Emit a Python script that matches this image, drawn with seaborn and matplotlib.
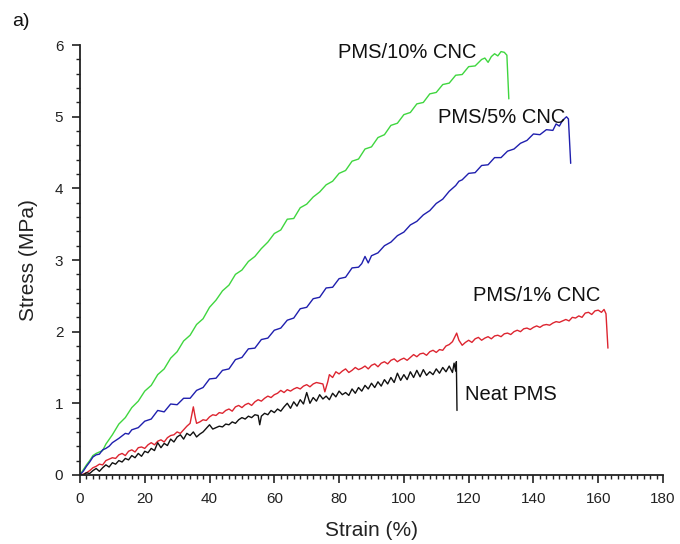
# Stress-strain curves, PMS with CNC loadings
import numpy as np
import pandas as pd
import seaborn as sns
import matplotlib
matplotlib.use("Agg")
import matplotlib.pyplot as plt
from matplotlib.ticker import MultipleLocator

# data (strain %, stress MPa)
strain_10 = [0, 1, 2, 3, 4, 5, 6, 7, 8, 10, 12, 14, 16, 18, 20, 22, 24, 26, 28, 30,
             32, 34, 36, 38, 40, 42, 44, 46, 48, 50, 52, 54, 56, 58, 60, 62, 64, 66, 68, 70,
             72, 74, 76, 78, 80, 82, 84, 86, 88, 90, 92, 94, 96, 98, 100, 102, 104, 106, 108, 110,
             112, 114, 116, 118, 120, 122, 124, 125, 126, 127, 128, 129, 130, 131, 131.8, 132.4]
stress_10 = [0, 0.07, 0.14, 0.2, 0.27, 0.3, 0.32, 0.34, 0.43, 0.56, 0.71, 0.8, 0.94, 1.03, 1.17, 1.25, 1.4, 1.48, 1.63, 1.72,
             1.87, 1.95, 2.1, 2.18, 2.34, 2.44, 2.57, 2.65, 2.8, 2.86, 2.98, 3.05, 3.16, 3.25, 3.37, 3.42, 3.57, 3.58, 3.73, 3.78,
             3.88, 3.95, 4.05, 4.1, 4.21, 4.25, 4.38, 4.41, 4.55, 4.58, 4.71, 4.75, 4.88, 4.91, 5.03, 5.06, 5.18, 5.2, 5.32, 5.34,
             5.45, 5.47, 5.58, 5.59, 5.7, 5.71, 5.8, 5.82, 5.76, 5.84, 5.88, 5.85, 5.91, 5.9, 5.86, 5.25]

strain_5 = [0, 1, 2, 3, 4, 5, 6, 7, 8, 9, 10, 12, 14, 15, 16, 18, 20, 22, 24, 26,
            28, 30, 32, 34, 36, 38, 40, 42, 44, 46, 48, 50, 52, 54, 56, 58, 60, 62, 64, 66,
            68, 70, 72, 74, 76, 78, 80, 82, 84, 86, 87, 88, 89, 90, 92, 94, 96, 98, 100, 102,
            104, 106, 108, 110, 112, 114, 116, 117, 118, 120, 122, 124, 126, 128, 130, 132, 134, 136, 138, 140,
            142, 144, 146, 147, 148, 149, 150.2, 150.8, 151.5]
stress_5 = [0, 0.05, 0.12, 0.18, 0.25, 0.28, 0.29, 0.35, 0.37, 0.4, 0.45, 0.51, 0.58, 0.57, 0.63, 0.66, 0.75, 0.78, 0.9, 0.88,
            0.99, 0.98, 1.07, 1.07, 1.18, 1.22, 1.34, 1.35, 1.46, 1.48, 1.61, 1.64, 1.76, 1.77, 1.89, 1.91, 2.02, 2.05, 2.16, 2.19,
            2.32, 2.34, 2.46, 2.48, 2.61, 2.62, 2.74, 2.76, 2.89, 2.9, 2.95, 3.05, 2.96, 3.06, 3.1, 3.2, 3.25, 3.34, 3.39, 3.49,
            3.54, 3.63, 3.69, 3.79, 3.85, 3.96, 4.04, 4.1, 4.12, 4.21, 4.22, 4.32, 4.33, 4.43, 4.43, 4.52, 4.55, 4.63, 4.67, 4.76,
            4.75, 4.82, 4.81, 4.9, 4.87, 4.95, 5.0, 4.97, 4.35]

strain_1 = [0, 1, 2, 3, 4, 5, 6, 7, 8, 9, 10, 11, 12, 13, 14, 15, 16, 17, 18, 19,
            20, 21, 22, 23, 24, 25, 26, 27, 28, 29, 30, 31, 32, 33, 34, 35, 35.6, 36, 37, 38,
            39, 40, 41, 42, 43, 44, 45, 46, 47, 48, 49, 50, 51, 52, 53, 54, 55, 56, 57, 58,
            59, 60, 61, 62, 63, 64, 65, 66, 67, 68, 69, 70, 71, 72, 73, 74, 75, 75.6, 76.5, 77,
            78, 79, 80, 81, 82, 83, 84, 85, 86, 87, 88, 89, 90, 91, 92, 93, 94, 95, 96, 97,
            98, 99, 100, 101, 102, 103, 104, 105, 106, 107, 108, 109, 110, 111, 112, 113, 114, 115, 116.3, 117,
            118, 119, 120, 121, 122, 123, 124, 125, 126, 127, 128, 129, 130, 131, 132, 133, 134, 135, 136, 137,
            138, 139, 140, 141, 142, 143, 144, 145, 146, 147, 148, 149, 150, 151, 152, 153, 154, 155, 156, 157,
            158, 159, 160, 161, 161.8, 162.4, 163]
stress_1 = [0, 0.01, 0.03, 0.06, 0.1, 0.12, 0.15, 0.14, 0.2, 0.22, 0.24, 0.23, 0.28, 0.3, 0.27, 0.33, 0.35, 0.32, 0.38, 0.39,
            0.37, 0.42, 0.45, 0.42, 0.47, 0.49, 0.46, 0.52, 0.55, 0.56, 0.6, 0.58, 0.63, 0.68, 0.72, 0.95, 0.8, 0.72, 0.74, 0.77,
            0.76, 0.81, 0.84, 0.83, 0.87, 0.86, 0.9, 0.92, 0.89, 0.95, 0.97, 0.94, 0.98, 1.0, 0.97, 1.02, 1.05, 1.03, 1.07, 1.1,
            1.08, 1.12, 1.14, 1.18, 1.15, 1.19, 1.17, 1.2, 1.22, 1.2, 1.24, 1.26, 1.23, 1.27, 1.29, 1.28, 1.27, 1.16, 1.3, 1.4,
            1.36, 1.44, 1.41, 1.45, 1.48, 1.43, 1.46, 1.5, 1.47, 1.49, 1.52, 1.48, 1.53, 1.55, 1.51, 1.56, 1.58, 1.55, 1.6, 1.62,
            1.58, 1.61, 1.63, 1.6, 1.64, 1.68, 1.65, 1.69, 1.7, 1.67, 1.72, 1.74, 1.71, 1.75, 1.74, 1.8, 1.82, 1.86, 1.98, 1.88,
            1.81, 1.85, 1.88, 1.85, 1.9, 1.92, 1.88, 1.91, 1.93, 1.9, 1.94, 1.95, 1.93, 1.97, 1.98, 1.96, 2.0, 2.02, 2.0, 2.04,
            2.05, 2.03, 2.06, 2.08, 2.06, 2.09, 2.1, 2.09, 2.12, 2.14, 2.13, 2.15, 2.17, 2.15, 2.2, 2.19, 2.22, 2.2, 2.26, 2.27,
            2.24, 2.29, 2.3, 2.27, 2.31, 2.25, 1.77]

strain_0 = [0, 1, 2, 3, 4, 5, 6, 7, 8, 9, 10, 11, 12, 13, 14, 15, 16, 17, 18, 19,
            20, 21, 22, 23, 24, 25, 26, 27, 28, 29, 30, 31, 32, 33, 34, 35, 36, 37, 38, 39,
            40, 41, 42, 43, 44, 45, 46, 47, 48, 49, 50, 51, 52, 53, 54, 55, 55.5, 56, 57, 58,
            59, 60, 61, 62, 63, 64, 65, 66, 67, 68, 69, 70, 71, 72, 73, 74, 75, 76, 77, 78,
            79, 80, 81, 82, 83, 84, 85, 86, 87, 88, 89, 90, 91, 92, 93, 94, 95, 96, 97, 98,
            99, 100, 101, 102, 103, 104, 105, 106, 107, 108, 109, 110, 111, 112, 113, 114, 115, 115.5, 116, 116.2,
            116.4]
stress_0 = [0, 0.0, 0.03, 0.02, 0.06, 0.09, 0.05, 0.1, 0.14, 0.11, 0.17, 0.15, 0.2, 0.18, 0.23, 0.21, 0.27, 0.24, 0.3, 0.26,
            0.33, 0.31, 0.37, 0.34, 0.45, 0.38, 0.44, 0.41, 0.5, 0.46, 0.53, 0.56, 0.5, 0.58, 0.55, 0.6, 0.53, 0.57, 0.6, 0.65,
            0.7, 0.64, 0.66, 0.68, 0.67, 0.71, 0.7, 0.74, 0.72, 0.77, 0.8, 0.78, 0.82, 0.8, 0.84, 0.83, 0.7, 0.82, 0.86, 0.84,
            0.9, 0.87, 0.92, 0.89, 0.95, 1.0, 0.93, 1.02, 0.96, 1.05, 0.99, 1.15, 1.0, 1.08, 1.03, 1.12, 1.06, 1.1, 1.05, 1.14,
            1.09, 1.17, 1.12, 1.15, 1.11, 1.2, 1.14, 1.22, 1.17, 1.25, 1.2, 1.28, 1.22, 1.3, 1.24, 1.33, 1.27, 1.36, 1.29, 1.42,
            1.32, 1.4, 1.33, 1.44, 1.36, 1.46, 1.37, 1.47, 1.39, 1.44, 1.4, 1.48, 1.42, 1.5, 1.44, 1.52, 1.43, 1.56, 1.45, 1.58,
            0.9]

series = ['PMS/10% CNC', 'PMS/5% CNC', 'PMS/1% CNC', 'Neat PMS']
colors = ['#3fd63f', '#1f1fae', '#dd2530', '#111111']

frames = []
for name, xs, ys in zip(series,
                        [strain_10, strain_5, strain_1, strain_0],
                        [stress_10, stress_5, stress_1, stress_0]):
    frames.append(pd.DataFrame({'strain': xs, 'stress': ys, 'sample': name}))
df = pd.concat(frames, ignore_index=True)

sns.set_style("ticks")
plt.rcParams['font.family'] = ['Liberation Sans', 'DejaVu Sans']

fig, ax = plt.subplots(figsize=(6.8, 5.44), dpi=100)
fig.subplots_adjust(left=0.1176, right=0.975, top=0.917, bottom=0.127)

sns.lineplot(data=df, x='strain', y='stress', hue='sample', hue_order=series,
             palette=colors, sort=False, estimator=None, linewidth=1.0,
             legend=False, ax=ax)

ax.set_xlim(0, 180)
ax.set_ylim(0, 6)
ax.xaxis.set_major_locator(MultipleLocator(20))
ax.xaxis.set_minor_locator(MultipleLocator(2))
ax.yaxis.set_major_locator(MultipleLocator(1))
ax.yaxis.set_minor_locator(MultipleLocator(0.2))
ax.tick_params(which='major', direction='out', length=6, width=1.2, labelsize=11,
               colors='#222222', pad=6)
ax.tick_params(which='minor', direction='out', length=3, width=1.0, colors='#222222')
for s in ['left', 'bottom']:
    ax.spines[s].set_linewidth(1.3)
    ax.spines[s].set_color('#222222')
sns.despine(ax=ax)

ax.set_xlabel('Strain (%)', fontsize=15, color='#222222', labelpad=11)
ax.set_ylabel('Stress (MPa)', fontsize=15, color='#222222', labelpad=12)

ax.text(79.6, 5.9, 'PMS/10% CNC', fontsize=14.5, va='center', ha='left', color='#111111')
ax.text(110.5, 4.99, 'PMS/5% CNC', fontsize=14.5, va='center', ha='left', color='#111111')
ax.text(121.3, 2.51, 'PMS/1% CNC', fontsize=14.5, va='center', ha='left', color='#111111')
ax.text(118.8, 1.12, 'Neat PMS', fontsize=14.5, va='center', ha='left', color='#111111')

fig.text(0.018, 0.96, 'a)', fontsize=14, va='center', ha='left', color='#111111')

plt.savefig("out.png", dpi=100)
